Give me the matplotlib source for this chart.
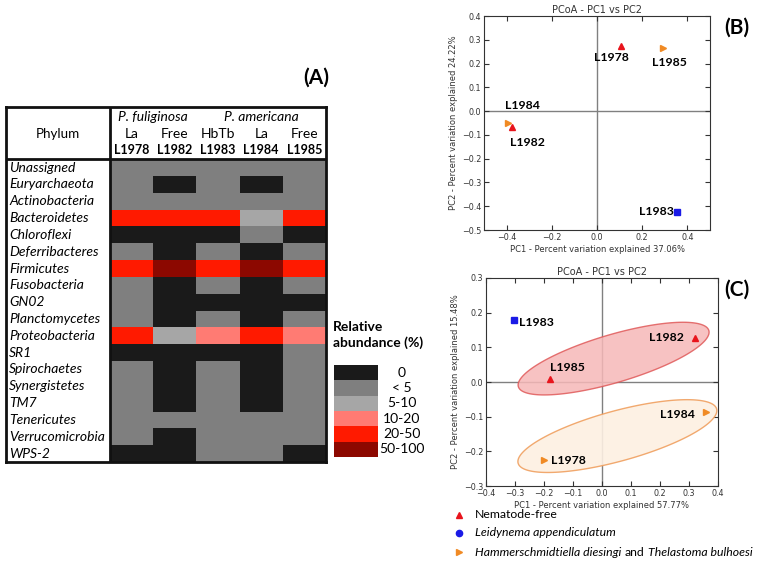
import matplotlib
matplotlib.use('Agg')
import matplotlib.pyplot as plt
import numpy as np
from matplotlib.colors import ListedColormap, BoundaryNorm
from matplotlib.patches import Polygon

# ---------------- data ----------------
phyla = ['Unassigned', 'Euryarchaeota', 'Actinobacteria', 'Bacteroidetes', 'Chloroflexi',
         'Deferribacteres', 'Firmicutes', 'Fusobacteria', 'GN02', 'Planctomycetes',
         'Proteobacteria', 'SR1', 'Spirochaetes', 'Synergistetes', 'TM7', 'Tenericutes',
         'Verrucomicrobia', 'WPS-2']
samples = ['L1978', 'L1982', 'L1983', 'L1984', 'L1985']
treatments = ['La', 'Free', 'HbTb', 'La', 'Free']
hosts = ['P. fuliginosa', 'P. americana']
host_spans = [(0, 2), (2, 5)]
abundance_classes = ['0', '< 5', '5-10', '10-20', '20-50', '50-100']
class_colors = ['#1a1a1a', '#7f7f7f', '#a6a6a6', '#ff7b73', '#ff1a00', '#8c0800']
# class index per phylum (rows) x sample (cols)
abundance = [
    [1, 1, 1, 1, 1],
    [1, 0, 1, 0, 1],
    [1, 1, 1, 1, 1],
    [4, 4, 4, 2, 4],
    [0, 0, 0, 1, 0],
    [1, 0, 1, 0, 1],
    [4, 5, 4, 5, 4],
    [1, 0, 1, 0, 1],
    [1, 0, 0, 0, 0],
    [1, 0, 1, 0, 1],
    [4, 2, 3, 4, 3],
    [0, 0, 0, 0, 1],
    [1, 0, 1, 0, 1],
    [1, 0, 1, 0, 1],
    [1, 0, 1, 0, 1],
    [1, 1, 1, 1, 1],
    [1, 0, 1, 1, 1],
    [0, 0, 1, 1, 0],
]

b_labels = ['L1978', 'L1982', 'L1983', 'L1984', 'L1985']
b_pc1 = [0.105, -0.375, 0.355, -0.395, 0.290]
b_pc2 = [0.275, -0.065, -0.425, -0.048, 0.265]
b_group = ['free', 'free', 'leid', 'hamm', 'hamm']

c_labels = ['L1978', 'L1982', 'L1983', 'L1984', 'L1985']
c_pc1 = [-0.200, 0.320, -0.305, 0.360, -0.180]
c_pc2 = [-0.225, 0.127, 0.178, -0.087, 0.008]
c_group = ['hamm', 'free', 'leid', 'hamm', 'free']

group_names = ['free', 'leid', 'hamm']
legend_parts = {
    'free': [('Nematode-free', 'normal')],
    'leid': [('Leidynema appendiculatum', 'italic')],
    'hamm': [('Hammerschmidtiella diesingi', 'italic'), ('and', 'normal'),
             ('Thelastoma bulhoesi', 'italic')],
}

# ---------------- styles ----------------
group_marker = {'free': '^', 'leid': 's', 'hamm': '>'}
group_color = {'free': '#e8141c', 'leid': '#1a1ae6', 'hamm': '#f08a24'}
b_offsets = {'L1978': (-9, -12), 'L1982': (15, -16), 'L1983': (-21, 1),
             'L1984': (15, 17), 'L1985': (7, -14)}
c_offsets = {'L1978': (24, -1), 'L1982': (-28, 0), 'L1983': (23, -2),
             'L1984': (-29, -2), 'L1985': (18, 12)}
ell_style = {'free': dict(kx=1.317, ky=1.28, b=0.072, shift=-0.03, ec='#e05a5a',
                          fc='#f6b8b8', alpha=0.85),
             'hamm': dict(kx=1.225, ky=1.065, b=0.075, shift=-0.027, ec='#f0a060',
                          fc='#fdf0e2', alpha=0.9)}

W, H = 765, 566
fig = plt.figure(figsize=(W / 100, H / 100), dpi=100)
fig.patch.set_facecolor('white')

def fbox(l, t, r, b):
    return [l / W, 1 - b / H, (r - l) / W, (b - t) / H]

TXT = 'Lato'
FS = 10

# ---------------- panel A ----------------
axA = fig.add_axes(fbox(6, 107, 326, 462))
ncol = len(samples)
nrow = len(phyla)
name_w = 2.41
head_h = 3.1
cmap = ListedColormap(class_colors)
norm = BoundaryNorm(np.arange(-0.5, len(class_colors) + 0.5), cmap.N)
axA.pcolormesh(np.arange(ncol + 1), np.arange(nrow + 1), np.array(abundance),
               cmap=cmap, norm=norm)
axA.set_xlim(-name_w, ncol)
axA.set_ylim(nrow, -head_h)
axA.set_xticks([]); axA.set_yticks([])
for s in axA.spines.values():
    s.set_linewidth(2.0)
    s.set_color('#111111')
axA.axhline(0, color='#111111', lw=2.0)
axA.axvline(0, color='#111111', lw=2.0)
for i, p in enumerate(phyla):
    axA.text(-name_w + 0.07, i + 0.5, p, style='italic', fontsize=FS, family=TXT,
             va='center', ha='left')
axA.text(-name_w / 2, -1.49, 'Phylum', fontsize=9.6, family=TXT, ha='center', va='center')
for h, (a, b) in zip(hosts, host_spans):
    axA.text((a + b) / 2, -2.5, h, style='italic', fontsize=FS, family=TXT,
             ha='center', va='center')
for j, (t, s) in enumerate(zip(treatments, samples)):
    axA.text(j + 0.5, -1.49, t, fontsize=FS, family=TXT, ha='center', va='center')
    axA.text(j + 0.5, -0.52, s, fontsize=9, family=TXT, weight='bold',
             ha='center', va='center')

fig.text(316 / W, 1 - 78 / H, '(A)', fontsize=15, weight='bold', family=TXT,
         ha='center', va='center')

# legend of classes
axL = fig.add_axes(fbox(334, 365, 378, 457))
axL.pcolormesh(np.array([0, 1]), np.arange(len(class_colors) + 1),
               np.arange(len(class_colors)).reshape(-1, 1), cmap=cmap, norm=norm)
axL.set_ylim(len(class_colors), 0)
axL.set_xlim(0, 1)
axL.axis('off')
for i, lab in enumerate(abundance_classes):
    y = 365 + (i + 0.5) * (92 / len(class_colors))
    fig.text(402 / W, 1 - y / H, lab, fontsize=FS, family=TXT, ha='center', va='center')
fig.text(333 / W, 1 - 327 / H, 'Relative', fontsize=10, weight='bold', family=TXT,
         ha='left', va='center')
fig.text(333 / W, 1 - 343 / H, 'abundance (%)', fontsize=10, weight='bold', family=TXT,
         ha='left', va='center')

# ---------------- PCoA helpers ----------------
def style_pcoa(ax, xlab, ylab):
    ax.axhline(0, color='#808080', lw=1.0, zorder=1)
    ax.axvline(0, color='#808080', lw=1.0, zorder=1)
    ax.tick_params(direction='in', top=True, right=True, labelsize=5.8, length=3.5,
                   width=0.8, pad=2, colors='#333333')
    for s in ax.spines.values():
        s.set_linewidth(0.8)
        s.set_color('#333333')
    ax.set_title('PCoA - PC1 vs PC2', fontsize=7, pad=2.5, color='#333333')
    ax.set_xlabel(xlab, fontsize=6, labelpad=2, color='#333333')
    ax.set_ylabel(ylab, fontsize=6, labelpad=3, color='#333333')

def plot_points(ax, labels, xs, ys, groups, offsets):
    for lab, x, y, g in zip(labels, xs, ys, groups):
        ax.plot(x, y, marker=group_marker[g], color=group_color[g], ms=4,
                ls='none', zorder=4, mec=group_color[g])
        ax.annotate(lab, (x, y), xytext=offsets[lab], textcoords='offset pixels',
                    ha='center', va='center', fontsize=8.8, weight='bold', family=TXT,
                    zorder=5)

# ---------------- panel B ----------------
axB = fig.add_axes(fbox(484, 16, 710, 230))
axB.set_xlim(-0.5, 0.5)
axB.set_ylim(-0.5, 0.4)
axB.set_xticks(np.round(np.arange(-0.4, 0.41, 0.2), 1))
axB.set_yticks(np.round(np.arange(-0.5, 0.41, 0.1), 1))
style_pcoa(axB, 'PC1 - Percent variation explained 37.06%',
           'PC2 - Percent variation explained 24.22%')
plot_points(axB, b_labels, b_pc1, b_pc2, b_group, b_offsets)
fig.text(737 / W, 1 - 28 / H, '(B)', fontsize=15, weight='bold', family=TXT,
         ha='center', va='center')

# ---------------- panel C ----------------
axC = fig.add_axes(fbox(486, 278, 718, 486))
axC.set_xlim(-0.4, 0.4)
axC.set_ylim(-0.3, 0.3)
axC.set_xticks(np.round(np.arange(-0.4, 0.41, 0.1), 1))
axC.set_yticks(np.round(np.arange(-0.3, 0.31, 0.1), 1))
style_pcoa(axC, 'PC1 - Percent variation explained 57.77%',
           'PC2 - Percent variation explained 15.48%')
t = np.linspace(0, 2 * np.pi, 200)
for g in ['free', 'hamm']:
    idx = [i for i, gg in enumerate(c_group) if gg == g]
    px = np.array([c_pc1[i] for i in idx])
    py = np.array([c_pc2[i] for i in idx])
    st = ell_style[g]
    cx, cy = px.mean() + st['shift'], py.mean()
    ux = (px.max() - px.min()) / 2 * st['kx']
    uy = (py[np.argmax(px)] - py[np.argmin(px)]) / 2 * st['ky']
    ex = cx + ux * np.cos(t)
    ey = cy + uy * np.cos(t) + st['b'] * np.sin(t)
    axC.add_patch(Polygon(np.column_stack([ex, ey]), closed=True, fc=st['fc'],
                          ec=st['ec'], lw=1.0, alpha=st['alpha'], zorder=2))
plot_points(axC, c_labels, c_pc1, c_pc2, c_group, c_offsets)
fig.text(737 / W, 1 - 290 / H, '(C)', fontsize=15, weight='bold', family=TXT,
         ha='center', va='center')

# ---------------- legend below C ----------------
leg_y = [515, 533, 552]
leg_marker = {'free': '^', 'leid': 'o', 'hamm': '>'}
renderer = fig.canvas.get_renderer()
LFS = 8.8
for g, y in zip(group_names, leg_y):
    fig.lines.append(matplotlib.lines.Line2D([459 / W], [1 - y / H], marker=leg_marker[g],
                     color=group_color[g], ms=4.5, ls='none', transform=fig.transFigure))
    xpos = 475
    for txt, sty in legend_parts[g]:
        tt = fig.text(xpos / W, 1 - y / H, txt, fontsize=LFS, family=TXT,
                      va='center', style=sty)
        bb = tt.get_window_extent(renderer=renderer)
        xpos += bb.width + 3.2

fig.savefig('out.png', dpi=100)
